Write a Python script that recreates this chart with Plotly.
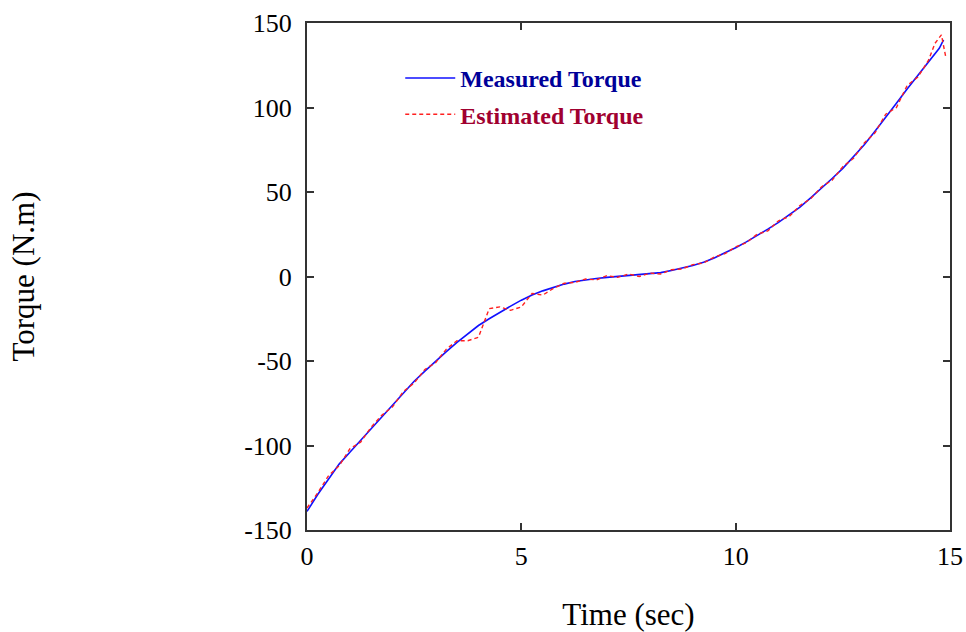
import plotly.graph_objects as go

# Measured torque (N.m) vs time (s)
t_meas = [0, 0.25, 0.5, 0.75, 1.0, 1.25, 1.5, 1.75, 2.0, 2.25, 2.5, 2.75, 3.0, 3.25, 3.5, 3.75,
          4.0, 4.25, 4.5, 4.75, 5.0, 5.25, 5.5, 5.75, 6.0, 6.25, 6.5, 6.75, 7.0, 7.25, 7.5, 7.75,
          8.0, 8.25, 8.5, 8.75, 9.0, 9.25, 9.5, 9.75, 10.0, 10.25, 10.5, 10.75, 11.0, 11.25, 11.5,
          11.75, 12.0, 12.25, 12.5, 12.75, 13.0, 13.25, 13.5, 13.75, 14.0, 14.25, 14.5, 14.75, 14.85]
measured = [-139, -129, -120, -111, -104, -97, -90, -83, -76, -69, -62, -56, -50, -44.5, -39, -34,
            -29, -25, -21, -17.5, -14, -11, -8.5, -6.5, -4.5, -3, -2, -1.2, -0.5, 0, 0.5, 1,
            1.5, 2.3, 3.5, 5, 6.5, 8.5, 11, 14, 17, 20.5, 24, 28, 32, 36.5, 41,
            46.5, 52, 58, 64, 71, 78, 86, 94, 102.5, 111, 119, 127, 135, 140]

# Estimated torque (N.m) vs time (s)
t_est = [0, 0.25, 0.5, 0.75, 1.0, 1.25, 1.5, 1.75, 2.0, 2.25, 2.5, 2.75, 3.0, 3.25, 3.5, 3.75,
         4.0, 4.25, 4.5, 4.75, 5.0, 5.25, 5.5, 5.75, 6.0, 6.25, 6.5, 6.75, 7.0, 7.25, 7.5, 7.75,
         8.0, 8.25, 8.5, 8.75, 9.0, 9.25, 9.5, 9.75, 10.0, 10.25, 10.5, 10.75, 11.0, 11.25, 11.5,
         11.75, 12.0, 12.25, 12.5, 12.75, 13.0, 13.25, 13.5, 13.75, 14.0, 14.25, 14.5, 14.65, 14.8, 14.9]
estimated = [-137, -128, -118, -112, -102, -98, -89, -82, -77, -68, -63, -55, -51, -43, -38, -38,
             -36, -19, -18, -20, -18, -10, -11, -7, -4, -3.5, -1.5, -2, 0.5, -0.5, 1.5, 0,
             2, 1.5, 4, 4.5, 7, 8, 11.5, 13.5, 17.5, 20, 25, 27, 33, 35.5, 42,
             46, 53, 57, 65, 70, 79, 85, 96, 100, 113, 118, 128, 138, 143, 130]

x_ticks = [0, 5, 10, 15]
y_ticks = [-150, -100, -50, 0, 50, 100, 150]

SERIF = "Liberation Serif, Times New Roman, serif"

fig = go.Figure()
fig.add_trace(go.Scatter(
    x=t_meas, y=measured, mode="lines",
    name="<b><span style='color:#000099'>Measured Torque</span></b>",
    line=dict(color="#1010ff", width=1.6), legendgroup="a"))
fig.add_trace(go.Scatter(
    x=t_est, y=estimated, mode="lines",
    name="<b><span style='color:#a00030'>Estimated Torque</span></b>",
    line=dict(color="#ff2020", width=1.4, dash="4px,3px"), legendgroup="b"))

axis_common = dict(
    showgrid=False, zeroline=False, showline=True, linecolor="#333333", linewidth=2,
    mirror="ticks", ticks="inside", ticklen=7, tickwidth=2, tickcolor="#333333",
    tickfont=dict(family=SERIF, size=26, color="black"), automargin=False,
)
fig.update_xaxes(range=[0, 15], tickvals=x_ticks, ticktext=[str(v) for v in x_ticks],
                 ticklabelstandoff=2,
                 title=dict(text="Time (sec)", font=dict(family=SERIF, size=31, color="black"),
                            standoff=34),
                 **axis_common)
fig.update_yaxes(range=[-150, 150], tickvals=y_ticks, ticktext=[str(v) for v in y_ticks],
                 ticklabelstandoff=8,
                 title=dict(text="Torque (N.m)", font=dict(family=SERIF, size=31, color="black"),
                            standoff=200),
                 **axis_common)

fig.update_layout(
    width=966, height=632,
    margin=dict(l=307, r=16, t=23, b=102),
    plot_bgcolor="white", paper_bgcolor="white",
    showlegend=True,
    legend=dict(x=0.145, y=0.935, xanchor="left", yanchor="top",
                bgcolor="rgba(0,0,0,0)", borderwidth=0, itemwidth=50,
                tracegroupgap=2,
                font=dict(family=SERIF, size=24)),
)

fig.write_html("out.html")
